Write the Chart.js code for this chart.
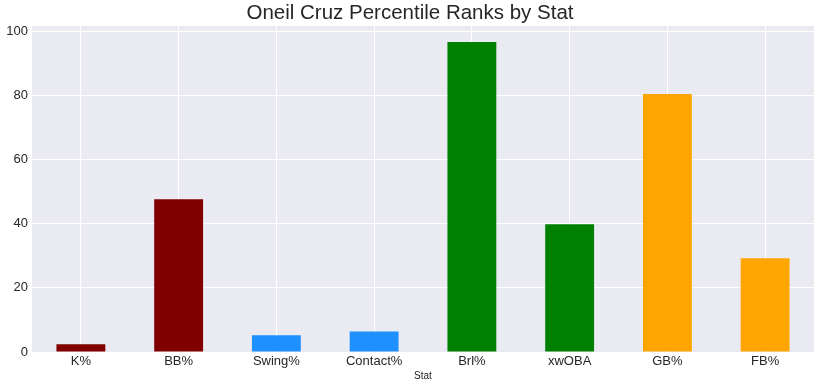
<!DOCTYPE html>
<html>
<head>
<meta charset="utf-8">
<script src="https://cdn.jsdelivr.net/npm/chart.js@4/dist/chart.umd.min.js"></script>
<style>
html,body{margin:0;padding:0;background:#fff;}
#wrap{width:820px;height:389px;}
</style>
</head>
<body>
<div id="wrap"><canvas id="c" width="820" height="389"></canvas></div>
<script>
const categories = ["K%", "BB%", "Swing%", "Contact%", "Brl%", "xwOBA", "GB%", "FB%"];
const percentiles = [2.4, 47.6, 5.2, 6.4, 96.6, 39.8, 80.4, 29.2];
const barColors = ["#800000", "#800000", "#1E90FF", "#1E90FF", "#008000", "#008000", "#FFA500", "#FFA500"];
const yTicks = [0, 20, 40, 60, 80, 100];

const bgPlugin = {
  id: 'plotBg',
  beforeDraw(chart) {
    const {ctx, chartArea: a} = chart;
    ctx.save();
    ctx.fillStyle = '#EAEAF2';
    ctx.fillRect(a.left, a.top, a.right - a.left, a.bottom - a.top);
    ctx.restore();
  }
};

const FONT = "'Liberation Sans', Arial, sans-serif";
Chart.defaults.font.family = FONT;
Chart.defaults.color = '#262626';

new Chart(document.getElementById('c'), {
  type: 'bar',
  data: {
    labels: categories,
    datasets: [{
      data: percentiles,
      backgroundColor: barColors,
      borderWidth: 0,
      barPercentage: 0.5,
      categoryPercentage: 1.0
    }]
  },
  options: {
    responsive: false,
    animation: false,
    devicePixelRatio: 1,
    layout: {padding: {left: 6, right: 6, top: 0, bottom: 7}},
    plugins: {
      legend: {display: false},
      tooltip: {enabled: false},
      title: {
        display: true,
        text: 'Oneil Cruz Percentile Ranks by Stat',
        color: '#262626',
        font: {size: 20.5, weight: 'normal', family: FONT},
        padding: {top: 1.4, bottom: 0}
      }
    },
    scales: {
      x: {
        offset: true,
        grid: {color: '#ffffff', lineWidth: 1, offset: false, drawTicks: false},
        border: {display: false},
        ticks: {color: '#262626', font: {size: 13}, padding: 2, maxRotation: 0},
        title: {display: true, text: 'Stat', color: '#262626', font: {size: 10}, padding: {top: 0, bottom: 0}},
        afterFit(s) { s.height = 30; }
      },
      y: {
        min: 0,
        max: 101.6,
        afterBuildTicks(s) { s.ticks = yTicks.map(v => ({value: v})); },
        grid: {color: '#ffffff', lineWidth: 1, drawTicks: false},
        border: {display: false},
        ticks: {color: '#262626', font: {size: 13}, padding: 4},
        afterFit(s) { s.width = 26; }
      }
    }
  },
  plugins: [bgPlugin]
});
</script>
</body>
</html>
